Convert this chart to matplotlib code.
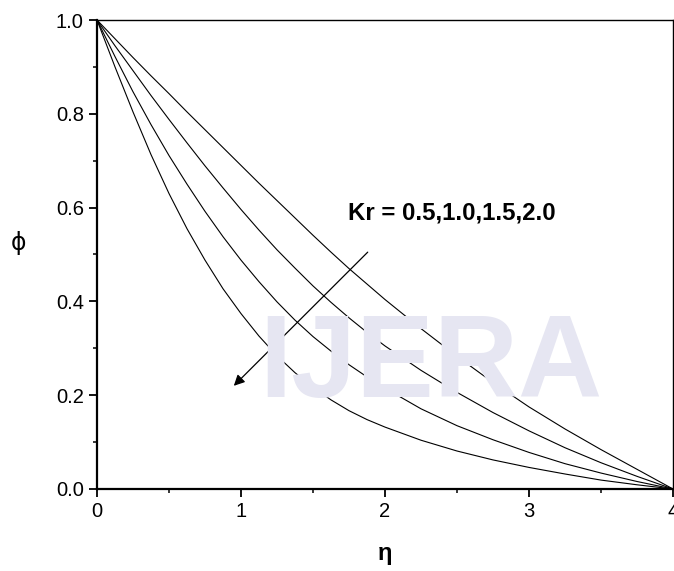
import numpy as np
import matplotlib.pyplot as plt

plt.rcParams['font.family'] = ['Liberation Sans', 'DejaVu Sans']

# eta grid and concentration profiles
eta = [0.0, 0.125, 0.25, 0.375, 0.5, 0.625, 0.75, 0.875, 1.0,
       1.125, 1.25, 1.375, 1.5, 1.625, 1.75, 1.875, 2.0,
       2.25, 2.5, 2.75, 3.0, 3.25, 3.5, 3.75, 4.0]
phi_kr05 = [1.000, 0.960, 0.920, 0.881, 0.843, 0.804, 0.766, 0.728, 0.690,
            0.652, 0.615, 0.578, 0.541, 0.505, 0.470, 0.437, 0.404,
            0.342, 0.283, 0.227, 0.175, 0.128, 0.084, 0.042, 0.000]
phi_kr10 = [1.000, 0.945, 0.892, 0.839, 0.788, 0.738, 0.689, 0.642, 0.596,
            0.552, 0.510, 0.471, 0.433, 0.398, 0.365, 0.334, 0.305,
            0.253, 0.206, 0.163, 0.124, 0.088, 0.056, 0.027, 0.000]
phi_kr15 = [1.000, 0.922, 0.847, 0.777, 0.711, 0.650, 0.592, 0.538, 0.488,
            0.442, 0.399, 0.360, 0.325, 0.294, 0.265, 0.239, 0.215,
            0.171, 0.135, 0.105, 0.078, 0.054, 0.034, 0.016, 0.000]
phi_kr20 = [1.000, 0.900, 0.804, 0.713, 0.630, 0.555, 0.488, 0.427, 0.374,
            0.326, 0.284, 0.248, 0.217, 0.190, 0.167, 0.148, 0.132,
            0.104, 0.081, 0.062, 0.046, 0.032, 0.019, 0.009, 0.000]
profiles = [phi_kr05, phi_kr10, phi_kr15, phi_kr20]

fig = plt.figure(figsize=(6.74, 5.71), dpi=100)
ax = fig.add_axes([97/674, 82/571, 576/674, 469/571])

# faint journal watermark behind the plot
fig.text(0.64, 0.358, 'IJERA', fontsize=84, fontweight='bold',
         color='#e6e6f2', ha='center', va='center', zorder=0)
ax.patch.set_alpha(0)

for p in profiles:
    ax.plot(eta, p, color='k', lw=0.8)

ax.annotate('', xy=(0.95, 0.22), xytext=(1.88, 0.505),
            arrowprops=dict(arrowstyle='-|>', color='k', lw=0.9,
                            mutation_scale=16, shrinkA=0, shrinkB=0))
ax.text(1.74, 0.588, 'Kr = 0.5,1.0,1.5,2.0', fontsize=17.3,
        fontweight='bold', va='center', ha='left')

ax.set_xlim(0, 4)
ax.set_ylim(0, 1.0)
ax.set_xticks([0, 1, 2, 3, 4])
ax.set_xticks(np.arange(0.5, 4, 1), minor=True)
ax.set_yticks([0.0, 0.2, 0.4, 0.6, 0.8, 1.0])
ax.set_yticks(np.arange(0.1, 1.0, 0.2), minor=True)
ax.set_yticklabels(['0.0', '0.2', '0.4', '0.6', '0.8', '1.0'])
ax.tick_params(which='major', direction='out', length=6, width=1.3,
               labelsize=14.5, top=False, right=False)
ax.tick_params(which='minor', direction='out', length=3, width=1.1,
               top=False, right=False)

for s in ['left', 'bottom']:
    ax.spines[s].set_linewidth(1.6)
for s in ['top', 'right']:
    ax.spines[s].set_linewidth(1.0)

ax.set_xlabel('η', fontsize=17, fontweight='bold', labelpad=15)
ax.set_ylabel('ϕ', fontsize=17, rotation=0, va='center', ha='center',
              family=['DejaVu Sans'])
ax.yaxis.set_label_coords(-0.137, 0.524)

plt.savefig('out.png', dpi=100)
